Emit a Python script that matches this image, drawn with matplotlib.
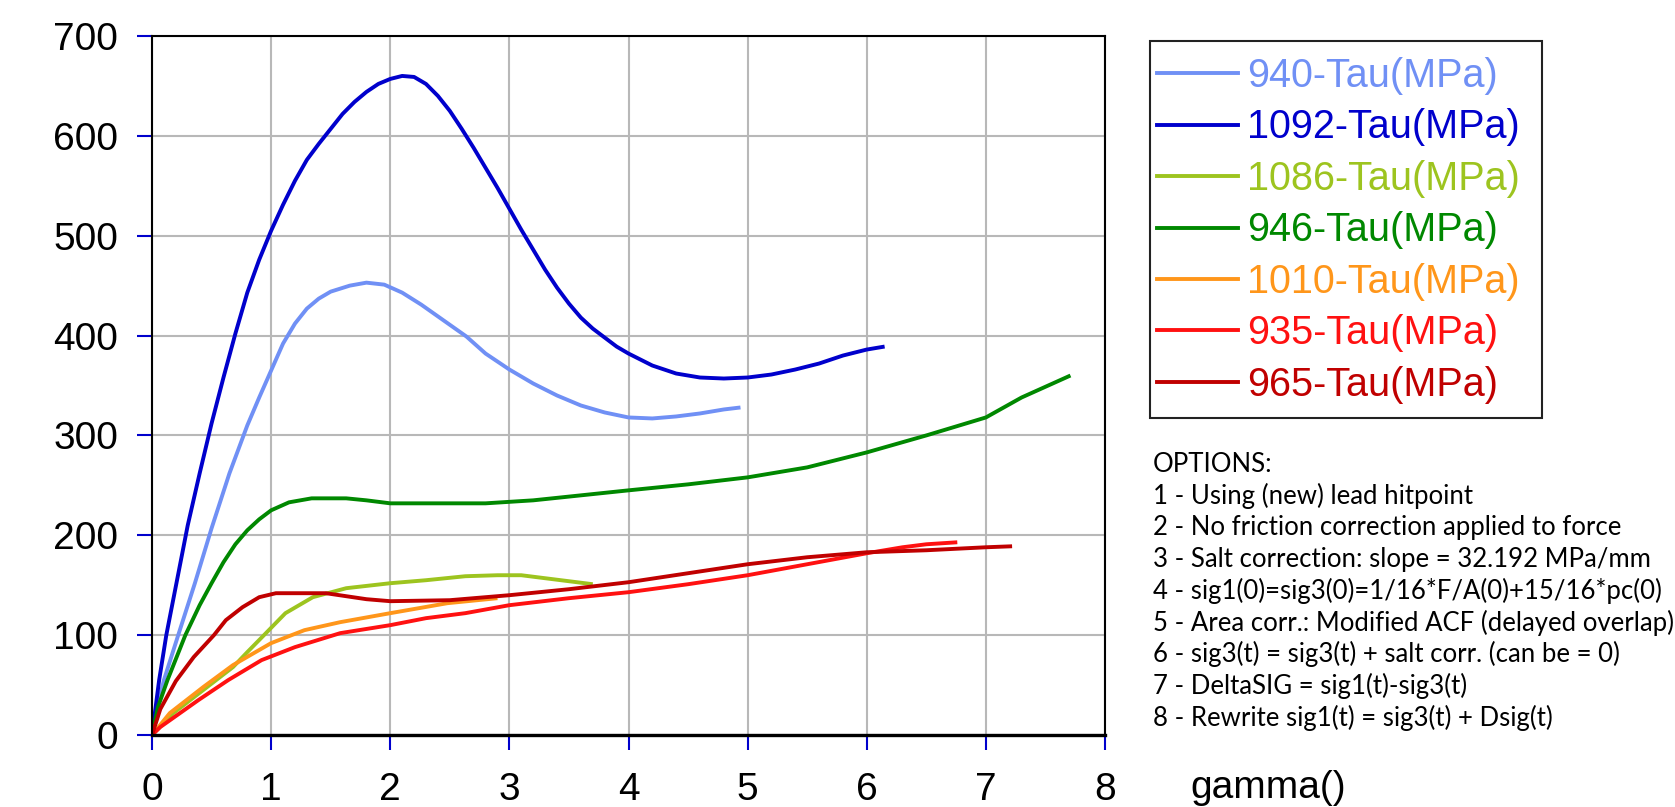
import matplotlib
matplotlib.use("Agg")
import matplotlib.pyplot as plt
from matplotlib.lines import Line2D
from matplotlib.patches import Rectangle

# ---- shear stress vs. shear strain for each test ----
g_940 = [0, 0.05, 0.1, 0.22, 0.36, 0.5, 0.65, 0.8, 0.9, 1.0, 1.1, 1.2, 1.3,
         1.4, 1.5, 1.66, 1.8, 1.95, 2.1, 2.26, 2.45, 2.64, 2.8, 3.0, 3.2, 3.4, 3.6, 3.8,
         4.0, 4.2, 4.4, 4.6, 4.8, 4.94]
t_940 = [0, 30, 55, 100, 152, 207, 262, 310, 338, 365, 392, 412, 427,
         437, 444, 450, 453, 451, 443, 431, 415, 399, 382, 366, 352, 340, 330, 323,
         318, 317, 319, 322, 326, 328]

g_1092 = [0, 0.06, 0.12, 0.21, 0.3, 0.4, 0.5, 0.6, 0.7, 0.8, 0.9, 1.0, 1.1, 1.2, 1.3,
          1.4, 1.5, 1.6, 1.7, 1.8, 1.9, 2.0, 2.1, 2.2, 2.3, 2.4, 2.5, 2.6, 2.7, 2.8, 2.9,
          3.0, 3.1, 3.2, 3.3, 3.4, 3.5, 3.6, 3.7, 3.8, 3.9, 4.0, 4.2, 4.4, 4.6, 4.8, 5.0,
          5.2, 5.4, 5.6, 5.8, 6.0, 6.15]
t_1092 = [0, 55, 100, 155, 210, 262, 312, 358, 402, 443, 476, 505, 531, 555, 576,
          592, 607, 622, 634, 644, 652, 657, 660, 659, 652, 640, 625, 607, 588, 568, 548,
          527, 506, 486, 466, 448, 432, 418, 407, 398, 389, 382, 370, 362, 358, 357, 358,
          361, 366, 372, 380, 386, 389]

g_1086 = [0, 0.18, 0.43, 0.68, 0.8, 0.94, 1.12, 1.35, 1.63, 2.0, 2.3, 2.63, 2.9, 3.1,
          3.3, 3.5, 3.7]
t_1086 = [0, 22, 45, 68, 83, 100, 122, 138, 147, 152, 155, 159, 160, 160,
          157, 154, 151]

g_946 = [0, 0.05, 0.13, 0.28, 0.4, 0.5, 0.6, 0.7, 0.8, 0.9, 1.0, 1.15, 1.34, 1.63,
         1.8, 2.0, 2.4, 2.8, 3.2, 3.6, 4.0, 4.5, 5.0, 5.5, 6.0, 6.5, 7.0, 7.3, 7.71]
t_946 = [0, 28, 55, 100, 130, 152, 173, 191, 205, 216, 225, 233, 237, 237,
         235, 232, 232, 232, 235, 240, 245, 251, 258, 268, 283, 300, 318, 338, 360]

g_1010 = [0, 0.15, 0.43, 0.68, 1.0, 1.28, 1.58, 2.0, 2.48, 2.9]
t_1010 = [0, 22, 48, 70, 92, 105, 113, 122, 132, 137]

g_935 = [0, 0.07, 0.39, 0.64, 0.92, 1.2, 1.58, 2.0, 2.3, 2.63, 3.0, 3.5, 4.0,
         4.5, 5.0, 5.5, 6.0, 6.3, 6.5, 6.76]
t_935 = [0, 8, 35, 55, 75, 88, 102, 110, 117, 122, 130, 137, 143,
         151, 160, 171, 182, 188, 191, 193]

g_965 = [0, 0.07, 0.2, 0.35, 0.52, 0.62, 0.76, 0.9, 1.04, 1.46, 1.63, 1.8, 2.0, 2.5,
         3.0, 3.5, 4.0, 4.5, 5.0, 5.5, 6.0, 6.5, 7.0, 7.22]
t_965 = [0, 26, 54, 78, 100, 115, 128, 138, 142, 142, 139, 136, 134, 135,
         140, 146, 153, 162, 171, 178, 183, 185, 188, 189]

series_labels = ["940-Tau(MPa)", "1092-Tau(MPa)", "1086-Tau(MPa)", "946-Tau(MPa)",
                 "1010-Tau(MPa)", "935-Tau(MPa)", "965-Tau(MPa)"]
series_colors = ["#7090f5", "#0000cc", "#9dc41f", "#008800", "#ff961a", "#ff1111", "#c00000"]
series_data = [(g_940, t_940), (g_1092, t_1092), (g_1086, t_1086), (g_946, t_946),
               (g_1010, t_1010), (g_935, t_935), (g_965, t_965)]

x_ticks = [0, 1, 2, 3, 4, 5, 6, 7, 8]
y_ticks = [0, 100, 200, 300, 400, 500, 600, 700]
x_label = "gamma()"

options_lines = [
    "OPTIONS:",
    "1 - Using (new) lead hitpoint",
    "2 - No friction correction applied to force",
    "3 - Salt correction: slope = 32.192 MPa/mm",
    "4 - sig1(0)=sig3(0)=1/16*F/A(0)+15/16*pc(0)",
    "5 - Area corr.: Modified ACF (delayed overlap)",
    "6 - sig3(t) = sig3(t) + salt corr. (can be = 0)",
    "7 - DeltaSIG = sig1(t)-sig3(t)",
    "8 - Rewrite sig1(t) = sig3(t) + Dsig(t)",
]

W, H = 1675, 807
fig = plt.figure(figsize=(W / 100, H / 100), dpi=100)
ax = fig.add_axes([152 / W, 1 - 735 / H, (1105 - 152) / W, (735 - 36) / H])

for (g, t), lab, col in zip(series_data, series_labels, series_colors):
    ax.plot(g, t, color=col, lw=2.8, label=lab, solid_joinstyle="round",
            solid_capstyle="butt")

ax.set_xlim(0, 8)
ax.set_ylim(0, 700)
ax.set_xticks(x_ticks)
ax.set_yticks(y_ticks)
ax.grid(True, color="#b8b8b8", lw=1.5)
ax.set_axisbelow(True)

tick_font = {"family": "Liberation Sans", "size": 28}
ax.set_xticklabels([str(v) for v in x_ticks], fontdict=tick_font)
ax.set_yticklabels([str(v) for v in y_ticks], fontdict=tick_font)
ax.tick_params(direction="out", length=10.5, width=1.5, color="#0000cc", pad=14)
ax.tick_params(axis="x", pad=16)

for side in ["left", "top", "right"]:
    ax.spines[side].set_linewidth(1.5)
    ax.spines[side].set_color("black")
ax.spines["bottom"].set_linewidth(2.4)
ax.spines["bottom"].set_color("black")

fig.text(1190 / W, 1 - 798 / H, x_label, fontfamily="Liberation Sans", fontsize=28,
         va="baseline", ha="left")

# legend box drawn as a separate frame so the padding can be set freely
fig.patches.append(Rectangle((1150 / W, 1 - 418 / H), 392 / W, 377 / H,
                             transform=fig.transFigure, fill=False,
                             edgecolor="#222222", lw=1.5))
handles = [Line2D([], [], color=c, lw=2.8) for c in series_colors]
leg = ax.legend(handles, series_labels, loc="upper left",
                bbox_to_anchor=(1157 / W, 1 - 57 / H), bbox_transform=fig.transFigure,
                borderaxespad=0, frameon=False,
                prop={"family": "Liberation Sans", "size": 28.5},
                labelcolor="linecolor", handlelength=2.05, handletextpad=0.23,
                labelspacing=0.34, borderpad=0)

for i, line in enumerate(options_lines):
    fig.text(1153 / W, 1 - (472 + i * 31.7) / H, line, fontfamily="Lato",
             fontsize=18.5, va="baseline", ha="left", color="black")

fig.savefig("out.png", dpi=100)
